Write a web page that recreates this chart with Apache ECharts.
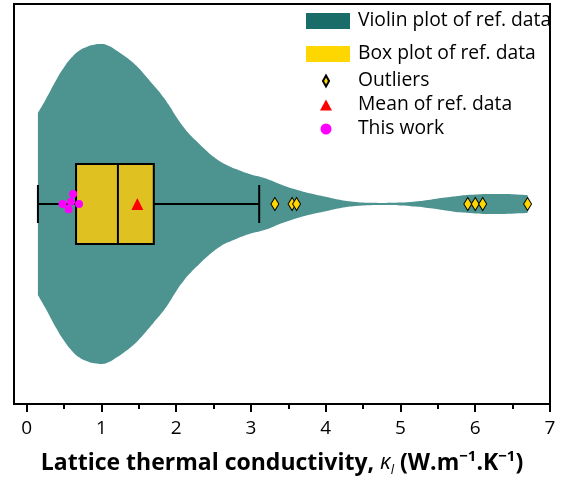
<!DOCTYPE html>
<html>
<head>
<meta charset="utf-8">
<script src="https://cdn.jsdelivr.net/npm/echarts@6/dist/echarts.min.js"></script>
<style>
  html, body { margin: 0; padding: 0; background: #fff; }
  #chart { width: 561px; height: 479px; }
</style>
</head>
<body>
<div id="chart"></div>
<script>
// Kernel density profile of the reference values (half-width, normalised to peak = 1)
const violinX = [0.15, 0.25, 0.4, 0.5, 0.6, 0.7, 0.8, 0.9, 1.0, 1.1, 1.2, 1.3, 1.4, 1.5, 1.6, 1.7,
  1.8, 1.9, 2.0, 2.1, 2.2, 2.3, 2.4, 2.5, 2.6, 2.7, 2.8, 2.9, 3.0, 3.2, 3.4, 3.6, 3.8, 4.0, 4.2,
  4.4, 4.6, 4.8, 5.0, 5.2, 5.4, 5.6, 5.8, 6.0, 6.2, 6.4, 6.6, 6.7];
const violinDensity = [0.57, 0.65, 0.78, 0.855, 0.915, 0.958, 0.982, 0.996, 1.0, 0.988, 0.96, 0.928,
  0.892, 0.848, 0.795, 0.74, 0.685, 0.62, 0.545, 0.48, 0.425, 0.38, 0.335, 0.295, 0.262, 0.238,
  0.218, 0.200, 0.185, 0.16, 0.122, 0.09, 0.065, 0.045, 0.025, 0.013, 0.008, 0.007, 0.009,
  0.016, 0.027, 0.04, 0.052, 0.059, 0.0625, 0.062, 0.058, 0.056];

// Box statistics: lower whisker, Q1, median, Q3, upper whisker
const boxStats = [0.15, 0.66, 1.22, 1.70, 3.11];
const meanValue = 1.48;
const outlierValues = [3.32, 3.55, 3.61, 5.90, 6.00, 6.10, 6.70];

// Values computed in this work (x) with their swarm offsets (y)
const thisWorkX = [0.48, 0.56, 0.59, 0.62, 0.70];
const thisWorkOffset = [0, -0.033, 0.014, 0.0625, 0];

const tickValues = [0, 1, 2, 3, 4, 5, 6, 7];
const minorTickValues = [0.5, 1.5, 2.5, 3.5, 4.5, 5.5, 6.5];

const FONT = 'Open Sans';
const VIOLIN_FILL = '#4d9491';
const VIOLIN_KEY = '#196c68';
const BOX_FILL = '#dfc122';
const BOX_KEY = '#ffd700';
const DIAMOND = 'path://M5,0 L10,9 L5,18 L0,9 Z';

const upper = violinX.map((x, i) => [x, violinDensity[i]]);
const lower = violinX.map((x, i) => [x, -violinDensity[i]]);

const chart = echarts.init(document.getElementById('chart'));

const option = {
  animation: false,
  backgroundColor: '#fff',
  grid: {
    left: 14, right: 11, top: 4, bottom: 75,
    outerBoundsMode: 'none',
    containLabel: false,
    show: true, borderColor: '#000', borderWidth: 2, backgroundColor: 'transparent'
  },
  xAxis: [
    {
      type: 'value', min: -0.17, max: 7,
      splitLine: { show: false },
      axisLine: { show: true, onZero: false, lineStyle: { color: '#000', width: 2 } },
      axisTick: { show: true, customValues: tickValues, length: 8, lineStyle: { color: '#000', width: 2 } },
      axisLabel: { customValues: tickValues, fontFamily: FONT, fontSize: 19, color: '#000', margin: 15 },
      name: '{b|Lattice thermal conductivity, }{k|κ}{l|l}{b| (W.m}{s|−1}{b|.K}{s|−1}{b|)}',
      nameLocation: 'middle',
      nameGap: 45,
      nameTextStyle: {
        rich: {
          b: { fontFamily: FONT, fontWeight: 'bold', fontSize: 23, color: '#000', lineHeight: 28 },
          k: { fontFamily: FONT, fontStyle: 'italic', fontSize: 22, color: '#000', lineHeight: 28 },
          l: { fontFamily: FONT, fontStyle: 'italic', fontSize: 13, color: '#000', lineHeight: 15, verticalAlign: 'bottom' },
          s: { fontFamily: FONT, fontWeight: 'bold', fontSize: 15, color: '#000', lineHeight: 16, verticalAlign: 'top' }
        }
      }
    },
    {
      type: 'value', min: -0.17, max: 7, position: 'bottom',
      splitLine: { show: false },
      axisLine: { show: false, onZero: false },
      axisTick: { show: true, customValues: minorTickValues, length: 5, lineStyle: { color: '#000', width: 2 } },
      axisLabel: { show: false }
    }
  ],
  yAxis: {
    type: 'value', min: -1.25, max: 1.25, show: false, splitLine: { show: false }
  },
  legend: [
    {
      left: 306, top: 11, orient: 'vertical', padding: 0,
      itemWidth: 44, itemHeight: 16, itemGap: 13,
      textStyle: { fontFamily: FONT, fontSize: 19.3, lineHeight: 20, color: '#000', padding: [0, 0, 0, 3] },
      data: [
        { name: 'Violin plot of ref. data', icon: 'rect', itemStyle: { color: VIOLIN_KEY } },
        { name: 'Box plot of ref. data', icon: 'rect', itemStyle: { color: BOX_KEY, borderWidth: 0 } }
      ]
    },
    {
      left: 320, top: 71, orient: 'vertical', padding: 0,
      itemWidth: 12, itemHeight: 11, itemGap: 4,
      symbolKeepAspect: true,
      textStyle: { fontFamily: FONT, fontSize: 19.3, lineHeight: 20, color: '#000', padding: [0, 0, 0, 21] },
      data: [
        { name: 'Outliers', icon: DIAMOND },
        { name: 'Mean of ref. data', icon: 'triangle' },
        { name: 'This work', icon: 'circle' }
      ]
    }
  ],
  series: [
    {
      name: 'Violin plot of ref. data', type: 'line', data: upper, smooth: 0.5,
      symbol: 'none', lineStyle: { width: 0 }, color: VIOLIN_FILL,
      areaStyle: { color: VIOLIN_FILL, opacity: 1, origin: 0 }, z: 1
    },
    {
      name: 'Violin plot of ref. data', type: 'line', data: lower, smooth: 0.5,
      symbol: 'none', lineStyle: { width: 0 }, color: VIOLIN_FILL,
      areaStyle: { color: VIOLIN_FILL, opacity: 1, origin: 0 }, z: 1
    },
    {
      name: 'Box plot of ref. data', type: 'custom', z: 2,
      color: BOX_KEY,
      data: [boxStats],
      encode: { x: [0, 1, 2, 3, 4] },
      renderItem: function (params, api) {
        const p = [0, 1, 2, 3, 4].map(i => api.coord([api.value(i), 0]));
        const yc = p[0][1];
        const half = 40, cap = 19;
        const stroke = { stroke: '#000', lineWidth: 2 };
        return {
          type: 'group',
          children: [
            { type: 'line', shape: { x1: p[0][0], y1: yc, x2: p[1][0], y2: yc }, style: stroke },
            { type: 'line', shape: { x1: p[3][0], y1: yc, x2: p[4][0], y2: yc }, style: stroke },
            { type: 'line', shape: { x1: p[0][0], y1: yc - cap, x2: p[0][0], y2: yc + cap }, style: stroke },
            { type: 'line', shape: { x1: p[4][0], y1: yc - cap, x2: p[4][0], y2: yc + cap }, style: stroke },
            { type: 'rect', shape: { x: p[1][0], y: yc - half, width: p[3][0] - p[1][0], height: 2 * half },
              style: { fill: BOX_FILL, stroke: '#000', lineWidth: 2 } },
            { type: 'line', shape: { x1: p[2][0], y1: yc - half, x2: p[2][0], y2: yc + half }, style: stroke }
          ]
        };
      }
    },
    {
      name: 'Outliers', type: 'scatter', z: 3,
      data: outlierValues.map(v => [v, 0]),
      symbol: DIAMOND, symbolSize: [8, 13],
      itemStyle: { color: '#ffd700', borderColor: '#000', borderWidth: 1, opacity: 1 }
    },
    {
      name: 'Mean of ref. data', type: 'scatter', z: 4,
      data: [[meanValue, 0]],
      symbol: 'triangle', symbolSize: 12,
      itemStyle: { color: '#ff0000', opacity: 1 }
    },
    {
      name: 'This work', type: 'scatter', z: 5,
      data: thisWorkX.map((x, i) => [x, thisWorkOffset[i]]),
      symbol: 'circle', symbolSize: 8,
      itemStyle: { color: '#ff00ff', opacity: 1 }
    }
  ]
};

chart.setOption(option);
</script>
</body>
</html>
